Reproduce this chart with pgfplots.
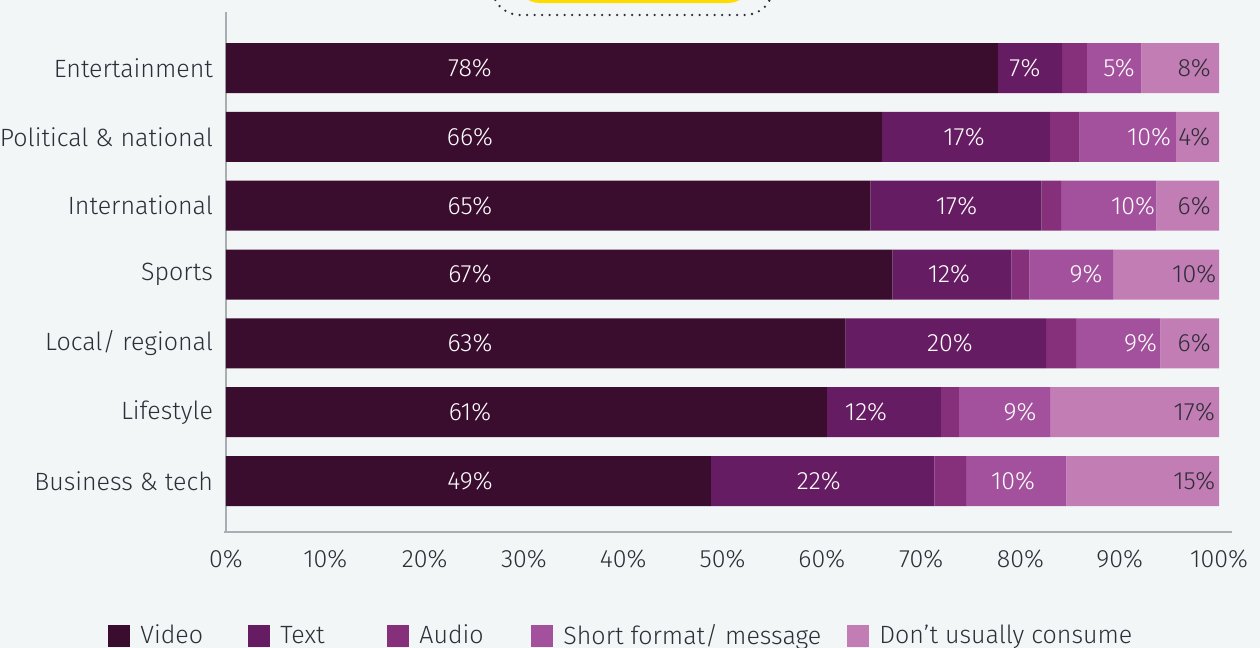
\documentclass[border=0pt]{standalone}
\usepackage{pgfplots}
\pgfplotsset{compat=1.18}
\usepackage{fontspec}
\setmainfont{Fira Sans}[UprightFont=* Light]
\definecolor{bgcol}{HTML}{F3F6F7}
\definecolor{cvideo}{HTML}{3A0D2F}
\definecolor{ctext}{HTML}{661C62}
\definecolor{caudio}{HTML}{86307C}
\definecolor{cshort}{HTML}{A3519C}
\definecolor{cdont}{HTML}{C27DB4}
\definecolor{tdark}{HTML}{2E2E38}
\definecolor{axcol}{HTML}{A9AEB3}
\definecolor{eyyellow}{HTML}{FFDC00}
\newcommand{\lblfont}{\fontsize{12.5}{15}\selectfont}
\begin{document}
\begin{tikzpicture}
\useasboundingbox (0,0) rectangle (630pt,-324pt);
\clip (0,0) rectangle (630pt,-324pt);
\fill[bgcol] (0,0) rectangle (630pt,-324pt);
% top button (decoration)
\fill[eyyellow, rounded corners=12pt] (258pt,25pt) rectangle (376pt,-1.5pt);
\draw[tdark, line width=1.3pt, line cap=round, dash pattern=on 0pt off 3.75pt, rounded corners=14pt] (246pt,25pt) rectangle (386.5pt,-7.5pt);
\begin{axis}[
  at={(113pt,-266pt)}, anchor=south west,
  scale only axis, width=496.5pt, height=260pt,
  xmin=0, xmax=100, ymin=-0.741, ymax=6.814,
  xbar stacked, bar width=25pt,
  axis x line*=bottom, axis y line*=left,
  axis line style={draw=axcol, line width=0.6pt, -},
  x axis line style={shorten >=-6.5pt, shorten <=-1pt},
  ytick={0,...,6},
  yticklabels={Business \& tech, Lifestyle, Local/ regional, Sports, International, Political \& national, Entertainment},
  xtick={0,10,...,100},
  xticklabel={\pgfmathprintnumber{\tick}\%},
  major tick length=0pt,
  tick label style={font=\lblfont, text=tdark},
  /pgf/number format/assume math mode=true,
  yticklabel style={xshift=-3pt},
  xticklabel style={yshift=-5.5pt},
  legend columns=5,
  legend style={at={(-0.1188,-0.2)}, anchor=west, draw=none, fill=none,
    inner sep=0pt, font=\lblfont, text=tdark,
    nodes={inner sep=0pt},
    /tikz/every odd column/.append style={column sep=5pt},
    /tikz/every even column/.append style={column sep=0pt}},
  legend image code/.code={\fill[#1] (0pt,-5.5pt) rectangle (11pt,5.5pt);},
  legend cell align=left,
]
\addplot[fill=cvideo, draw=none] coordinates {(48.84,0) (60.5,1) (62.4,2) (67.1,3) (64.9,4) (66.06,5) (77.74,6)};
\addplot[fill=ctext, draw=none] coordinates {(22.5,0) (11.5,1) (20.2,2) (12.0,3) (17.2,4) (16.9,5) (6.45,6)};
\addplot[fill=caudio, draw=none] coordinates {(3.2,0) (1.8,1) (3.0,2) (1.8,3) (2.0,4) (3.0,5) (2.5,6)};
\addplot[fill=cshort, draw=none] coordinates {(10.1,0) (9.2,1) (8.5,2) (8.5,3) (9.6,4) (9.7,5) (5.5,6)};
\addplot[fill=cdont, draw=none] coordinates {(15.36,0) (17.0,1) (5.9,2) (10.6,3) (6.3,4) (4.34,5) (7.81,6)};
\legend{\makebox[54pt][l]{Video}, \makebox[53.5pt][l]{Text}, \makebox[56pt][l]{Audio}, \makebox[142pt][l]{Short format/ message}, Don't usually consume}
\end{axis}
\begin{axis}[
  at={(113pt,-266pt)}, anchor=south west,
  scale only axis, width=496.5pt, height=260pt,
  xmin=0, xmax=100, ymin=-0.741, ymax=6.814,
  hide axis, clip=false,
  nodes near coords, point meta=explicit symbolic,
  every node near coord/.style={anchor=center, font=\lblfont, inner sep=0pt},
]
\addplot[draw=none, mark=none, every node near coord/.append style={text=white}] coordinates {
 (24.57,6)[78\%] (24.57,5)[66\%] (24.57,4)[65\%] (24.57,3)[67\%] (24.57,2)[63\%] (24.57,1)[61\%] (24.57,0)[49\%]};
\addplot[draw=none, mark=none, every node near coord/.append style={text=white}] coordinates {
 (80.46,6)[7\%] (74.32,5)[17\%] (73.57,4)[17\%] (72.8,3)[12\%] (72.9,2)[20\%] (64.45,1)[12\%] (59.7,0)[22\%]};
\addplot[draw=none, mark=none, every node near coord/.append style={text=white}] coordinates {
 (89.93,6)[5\%] (92.95,5)[10\%] (91.34,4)[10\%] (86.6,3)[9\%] (92.1,2)[9\%] (79.96,1)[9\%] (79.25,0)[10\%]};
\addplot[draw=none, mark=none, every node near coord/.append style={text=tdark}] coordinates {
 (97.5,6)[8\%] (97.5,5)[4\%] (97.5,4)[6\%] (97.5,3)[10\%] (97.5,2)[6\%] (97.5,1)[17\%] (97.5,0)[15\%]};
\end{axis}
\end{tikzpicture}
\end{document}
